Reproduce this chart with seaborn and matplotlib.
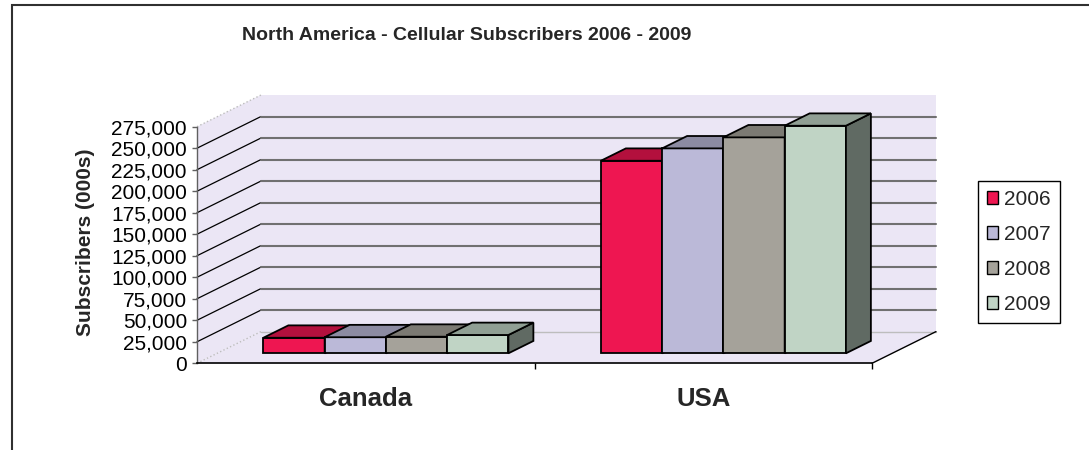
import numpy as np
import pandas as pd
import matplotlib
matplotlib.use("Agg")
import matplotlib.pyplot as plt
import seaborn as sns
from matplotlib.patches import Polygon, Rectangle, Patch
from matplotlib.lines import Line2D
from matplotlib.transforms import ScaledTranslation, IdentityTransform
from matplotlib.ticker import FuncFormatter, MultipleLocator, FixedLocator

# ---- data -------------------------------------------------------------
countries = ["Canada", "USA"]
years = ["2006", "2007", "2008", "2009"]
canada = [18100, 18700, 19300, 21300]
usa = [223800, 238200, 251000, 264500]
year_colors = ["#EE1651", "#BBB9D8", "#A5A29A", "#C0D4C5"]
y_max = 275000
y_step = 25000

# ---- style ------------------------------------------------------------
sns.set_theme(style="white")
plt.rcParams["font.family"] = ["Liberation Sans", "DejaVu Sans"]

DPI = 100
W, H = 1089, 450
fig = plt.figure(figsize=(W / DPI, H / DPI), dpi=DPI)
fig.patch.set_facecolor("white")

# front plane of the 3-D box (pixels from top-left)
left_px, right_px, base_px, top_px = 197, 872, 363.3, 126.7
ax = fig.add_axes([left_px / W, 1 - base_px / H,
                   (right_px - left_px) / W, (base_px - top_px) / H])

df = pd.DataFrame({
    "country": np.repeat(countries, len(years)),
    "year": years * len(countries),
    "value": canada + usa,
})
sns.barplot(data=df, x="country", y="value", hue="year", palette=year_colors,
            width=0.726, gap=0, saturation=1, edgecolor="black",
            linewidth=1.3, legend=False, ax=ax)
bars = sorted(list(ax.patches), key=lambda p: p.get_x())

xl, xr = -0.5, 1.5
ax.set_xlim(xl, xr)
ax.set_ylim(0, y_max)
ax.set_facecolor("none")
ax.set_xlabel("")
ax.set_ylabel("")

# oblique depth vector (display pixels, y up)
DX, DY = 64.0, 31.7
WALL = "#EBE6F5"


def disp(x, y, d=0.0):
    X, Y = ax.transData.transform((x, y))
    return (X + d * DX, Y + d * DY)


def poly(pts, fc, ec="none", lw=0.0, z=0.1):
    ax.add_patch(Polygon(pts, closed=True, facecolor=fc, edgecolor=ec,
                         linewidth=lw, transform=IdentityTransform(),
                         clip_on=False, zorder=z, joinstyle="miter"))


def seg(p, q, color, lw=1.0, ls="-", z=0.3):
    ax.add_line(Line2D([p[0], q[0]], [p[1], q[1]], color=color, lw=lw,
                       linestyle=ls, transform=IdentityTransform(),
                       clip_on=False, zorder=z))


# walls and floor
poly([disp(xl, 0), disp(xl, y_max), disp(xl, y_max, 1), disp(xl, 0, 1)], WALL)
poly([disp(xl, 0, 1), disp(xr, 0, 1), disp(xr, y_max, 1), disp(xl, y_max, 1)], WALL)
poly([disp(xl, 0), disp(xr, 0), disp(xr, 0, 1), disp(xl, 0, 1)], WALL)

seg(disp(xl, y_max), disp(xl, y_max, 1), "#BDBDBD", 1.0, ":")
seg(disp(xl, 0), disp(xl, 0, 1), "#BDBDBD", 1.0, ":")
seg(disp(xl, 0, 1), disp(xr, 0, 1), "#BDBDBD", 1.0)
seg(disp(xr, 0), disp(xr, 0, 1), "black", 1.0)

# gridlines: diagonal on the side wall, horizontal on the back wall
for v in range(y_step, y_max, y_step):
    seg(disp(xl, v), disp(xl, v, 1), "black", 0.9)
    seg(disp(xl, v, 1), disp(xr, v, 1), "#707070", 1.5)

# 3-D bars: front face shifted into depth, then top and side faces
f0, f1 = 0.315, 0.705
shift = ScaledTranslation(f0 * DX / DPI, f0 * DY / DPI, fig.dpi_scale_trans)
for i, p in enumerate(bars):
    z = 2 + i * 0.01
    p.set_transform(ax.transData + shift)
    p.set_zorder(z)
    p.set_clip_on(False)
    rgb = np.array(p.get_facecolor()[:3])
    x0 = p.get_x()
    x1 = x0 + p.get_width()
    h = p.get_height()
    top = [disp(x0, h, f0), disp(x1, h, f0), disp(x1, h, f1), disp(x0, h, f1)]
    side = [disp(x1, 0, f0), disp(x1, h, f0), disp(x1, h, f1), disp(x1, 0, f1)]
    poly(top, tuple(rgb * 0.75), "black", 1.3, z + 0.002)
    poly(side, tuple(rgb * 0.5), "black", 1.3, z + 0.001)

# axes lines and ticks
for s in ["top", "right"]:
    ax.spines[s].set_visible(False)
ax.spines["bottom"].set_color("black")
ax.spines["bottom"].set_linewidth(1.2)
ax.spines["left"].set_color("#606060")
ax.spines["left"].set_linewidth(1.0)

ax.yaxis.set_major_locator(MultipleLocator(y_step))
ax.yaxis.set_major_formatter(FuncFormatter(lambda v, _: f"{v:,.0f}"))
ax.tick_params(axis="y", which="major", left=True, direction="out",
               length=3.6, width=1, color="#606060", pad=3.6,
               labelsize=15, labelcolor="black")

ax.set_xticks([0, 1])
ax.set_xticklabels(countries, fontsize=18.5, fontweight="bold")
ax.xaxis.set_minor_locator(FixedLocator([0.5, 1.5]))
ax.tick_params(axis="x", which="major", bottom=False, pad=11)
ax.tick_params(axis="x", which="minor", bottom=True, direction="out",
               length=4.3, width=1, color="black")

# titles
fig.text(466.5 / W, 1 - 36 / H, "North America - Cellular Subscribers 2006 - 2009",
         ha="center", va="center", fontsize=14, fontweight="bold")
fig.text(85 / W, 1 - 242.5 / H, "Subscribers (000s)", rotation=90,
         ha="center", va="center", fontsize=15, fontweight="bold")

# legend
handles = [Patch(facecolor=c, edgecolor="black", linewidth=1, label=y)
           for c, y in zip(year_colors, years)]
leg = fig.legend(handles=handles, loc="upper left",
                 bbox_to_anchor=(978 / W, 1 - 181 / H), frameon=True,
                 fancybox=False, fontsize=15, handlelength=0.55,
                 handleheight=0.55, handletextpad=0.3, borderpad=0.42,
                 labelspacing=0.77, borderaxespad=0)
leg.get_frame().set_edgecolor("black")
leg.get_frame().set_linewidth(1.0)
leg.get_frame().set_alpha(1)

# chart-area border
fig.add_artist(Rectangle((11.5 / W, -0.1), 2, 1 - 5 / H + 0.1,
                         transform=fig.transFigure, fill=False,
                         edgecolor="#303030", linewidth=1.5))

fig.savefig("out.png", dpi=DPI)
